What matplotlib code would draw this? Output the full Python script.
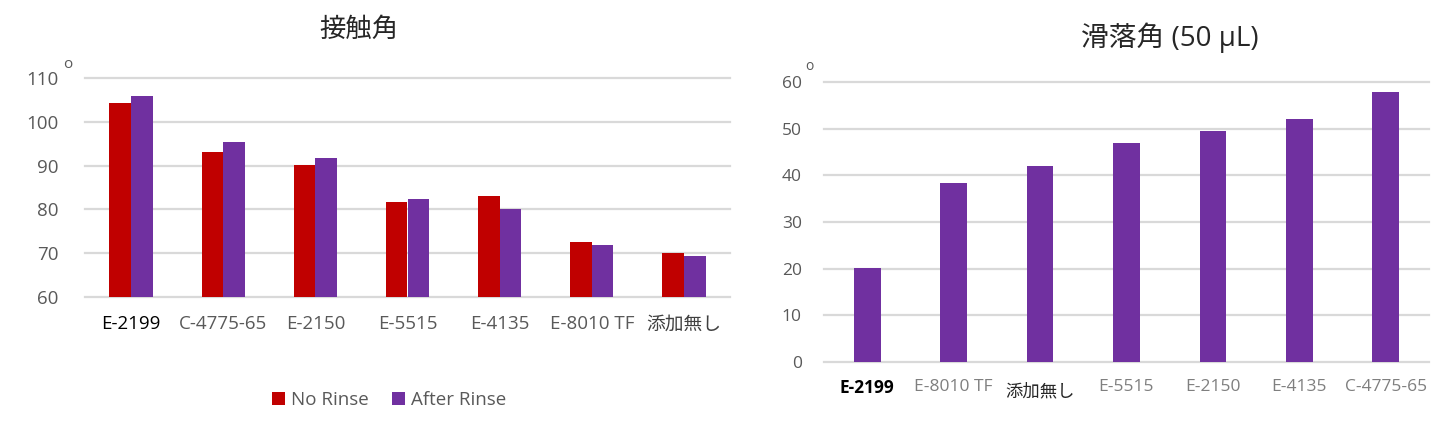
import matplotlib
matplotlib.use("Agg")
import matplotlib.pyplot as plt
import numpy as np

plt.rcParams['font.family'] = ['Open Sans', 'Noto Sans CJK JP', 'DejaVu Sans']

# contact angle (left)
contact_labels = ["E-2199", "C-4775-65", "E-2150", "E-5515", "E-4135", "E-8010 TF", "添加無し"]
no_rinse = [104.3, 93.1, 90.1, 81.6, 83.0, 72.6, 70.0]
after_rinse = [105.8, 95.3, 91.8, 82.3, 80.0, 71.8, 69.3]
contact_ticks = [60, 70, 80, 90, 100, 110]

# sliding angle (right)
slide_labels = ["E-2199", "E-8010 TF", "添加無し", "E-5515", "E-2150", "E-4135", "C-4775-65"]
slide_vals = [20.1, 38.4, 42.1, 46.9, 49.6, 52.0, 57.9]
slide_ticks = [0, 10, 20, 30, 40, 50, 60]

RED = "#C00000"
PURPLE = "#7030A0"
GRID = "#D9D9D9"
GRAY = "#595959"

W, H = 1446, 438
fig = plt.figure(figsize=(W / 100, H / 100), dpi=100)

def style(ax):
    for s in ax.spines.values():
        s.set_visible(False)
    ax.set_axisbelow(True)
    ax.grid(axis="y", color=GRID, linewidth=1.6)
    for gl in ax.yaxis.get_gridlines():
        gl.set_clip_on(False)
    ax.tick_params(length=0)

# ---- left chart
ax1 = fig.add_axes([85 / W, 1 - 297.3 / H, 645 / W, (297.3 - 77.7) / H])
x = np.arange(len(contact_labels))
bw = 0.235
b1 = ax1.bar(x - bw / 2, no_rinse, bw, color=RED, label="No Rinse")
b2 = ax1.bar(x + bw / 2, after_rinse, bw, color=PURPLE, label="After Rinse")
ax1.set_xlim(-0.5, len(contact_labels) - 0.5)
ax1.set_ylim(60, 110)
ax1.set_yticks(contact_ticks)
style(ax1)
ax1.tick_params(axis="y", labelsize=13.5, labelcolor=GRAY, pad=19)
ax1.set_xticks(x)
ax1.set_xticklabels(contact_labels, fontsize=13.5)
ax1.tick_params(axis="x", pad=13)
for i, t in enumerate(ax1.get_xticklabels()):
    t.set_color("#000000" if i == 0 else ("#404040" if i == 6 else GRAY))

fig.text(359 / W, 1 - 30 / H, "接触角", ha="center", va="center", fontsize=19,
         color="#262626")
fig.text(68 / W, 1 - 65 / H, "o", ha="center", va="center", fontsize=11, color=GRAY)

fig.legend(handles=[b1, b2], loc="center", bbox_to_anchor=(389 / W, 1 - 400 / H),
           ncol=2, frameon=False, fontsize=13.5, labelcolor=GRAY,
           handlelength=0.7, handleheight=0.7, handletextpad=0.35, columnspacing=1.2)

# ---- right chart
ax2 = fig.add_axes([824 / W, 1 - 362 / H, 605 / W, (362 - 82) / H])
x2 = np.arange(len(slide_labels))
ax2.bar(x2, slide_vals, 0.31, color=PURPLE)
ax2.set_xlim(-0.5, len(slide_labels) - 0.5)
ax2.set_ylim(0, 60)
ax2.set_yticks(slide_ticks)
style(ax2)
ax2.tick_params(axis="y", labelsize=12.5, labelcolor=GRAY, pad=16)
ax2.set_xticks(x2)
ax2.set_xticklabels(slide_labels, fontsize=12.5)
ax2.tick_params(axis="x", pad=12)
for i, t in enumerate(ax2.get_xticklabels()):
    if i == 0:
        t.set_color("#000000")
        t.set_fontweight("bold")
    elif slide_labels[i] == "添加無し":
        t.set_color("#262626")
        t.set_y(-0.02)
    else:
        t.set_color("#7F7F7F")

fig.text(1170 / W, 1 - 38 / H, "滑落角 (50 μL)", ha="center", va="center", fontsize=20,
         color="#262626")
fig.text(809 / W, 1 - 67 / H, "o", ha="center", va="center", fontsize=10, color=GRAY)

fig.savefig("out.png", dpi=100)
